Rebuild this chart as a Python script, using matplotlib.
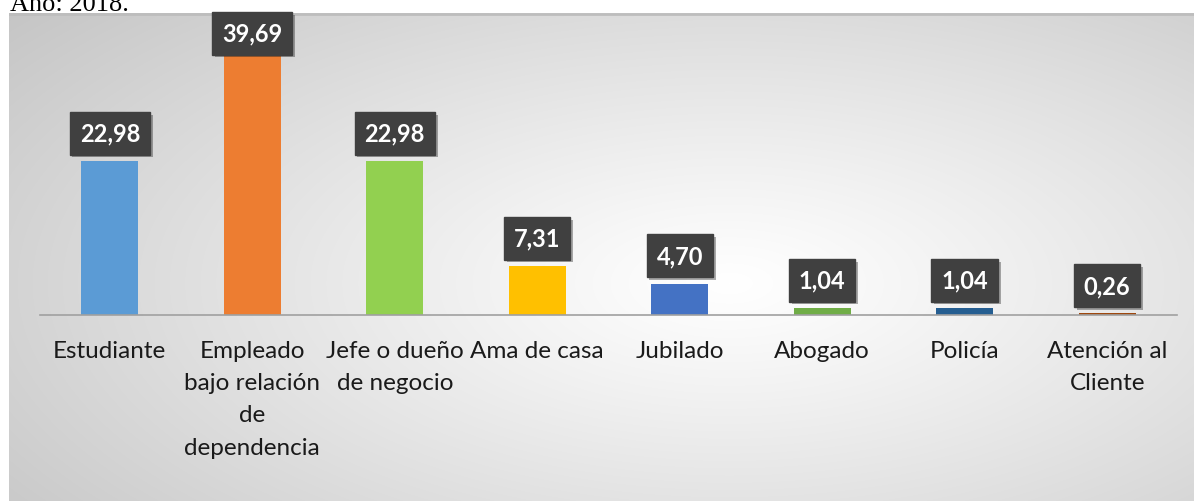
import numpy as np
import matplotlib.pyplot as plt
import matplotlib.patheffects as pe

categorias = ["Estudiante", "Empleado\nbajo relación\nde\ndependencia", "Jefe o dueño\nde negocio",
              "Ama de casa", "Jubilado", "Abogado", "Policía", "Atención al\nCliente"]
valores = [22.98, 39.69, 22.98, 7.31, 4.70, 1.04, 1.04, 0.26]
etiquetas = ["22,98", "39,69", "22,98", "7,31", "4,70", "1,04", "1,04", "0,26"]
colores = ["#5B9BD5", "#ED7D31", "#92D050", "#FFC000", "#4472C4", "#70AD47", "#255E91", "#9E480E"]

W, H = 1194, 502
fig = plt.figure(figsize=(W / 100, H / 100), dpi=100)
fig.patch.set_facecolor("white")

# fondo con degradado radial
bg = fig.add_axes([9 / W, 0, 1 - 9 / W, (H - 14) / H])
bw, bh = W - 9, H - 14
xx, yy = np.meshgrid(np.arange(bw), np.arange(bh))
cx, cy = 720, 270
d = np.sqrt(((xx - cx) / 720) ** 2 + ((yy - cy) / 330) ** 2) / np.sqrt(2)
g = 1 - 0.25 * np.clip(d, 0, 1) ** 1.1
bg.imshow(np.dstack([g, g, g]), aspect="auto", extent=(0, bw, bh, 0))
bg.axhline(0.5, color="#bdbdbd", lw=2)
bg.set_xlim(0, bw)
bg.set_ylim(bh, 0)
bg.axis("off")

fig.text(10 / W, 1 - 11 / H, "Año: 2018.", family="Liberation Serif", fontsize=19,
         va="baseline", ha="left", color="black")

ax = fig.add_axes([40 / W, (H - 316) / H, (1177 - 40) / W, (316 - 14) / H])
ax.patch.set_alpha(0)
x = np.arange(len(valores))
ax.bar(x, valores, width=0.4, color=colores, zorder=2,
       path_effects=[pe.SimplePatchShadow(offset=(0, 0), shadow_rgbFace="#b0b0b0", alpha=0.35), pe.Normal()])
ax.set_xlim(-0.49, len(valores) - 0.51)
ax.set_ylim(0, 45.07)

for i, (v, t) in enumerate(zip(valores, etiquetas)):
    yv = min(v, 37.9)
    txt = ax.annotate(t, xy=(i, yv), xytext=(0, 20), textcoords="offset points",
                      ha="center", va="center", color="white", fontsize=17, fontweight="bold",
                      family="Lato", zorder=5,
                      bbox=dict(boxstyle="square,pad=0.42", facecolor="#404040", edgecolor="#404040"))
    txt.get_bbox_patch().set_path_effects([pe.SimplePatchShadow(offset=(2, -2), alpha=0.35), pe.Normal()])

ax.set_xticks(x)
ax.set_xticklabels(categorias, family="Lato", fontsize=17.5, color="#1a1a1a", linespacing=1.66)
ax.tick_params(axis="x", length=0, pad=18)
ax.set_yticks([])
for s in ["top", "right", "left"]:
    ax.spines[s].set_visible(False)
ax.spines["bottom"].set_color("#a0a0a0")
ax.spines["bottom"].set_linewidth(1.2)

fig.savefig("out.png", dpi=100)
